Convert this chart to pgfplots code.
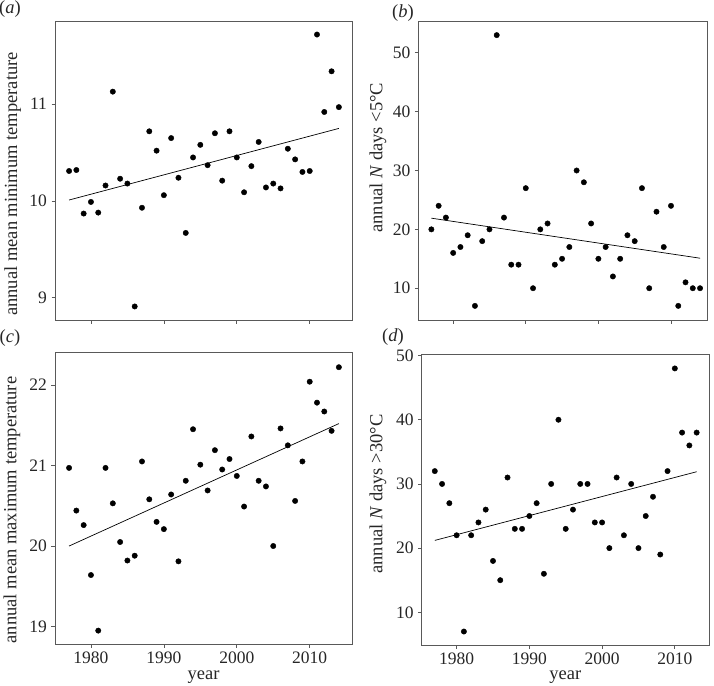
\documentclass[border=0pt]{standalone}
\usepackage{pgfplots}
\pgfplotsset{compat=1.18}
\usepackage{pgfplotstable}
\usepackage{fontspec}
\setmainfont{Liberation Serif}

\pgfplotstableread{
year val
1977 10.31
1978 10.32
1979 9.87
1980 9.99
1981 9.88
1982 10.16
1983 11.13
1984 10.23
1985 10.18
1986 8.91
1987 9.93
1988 10.72
1989 10.52
1990 10.06
1991 10.65
1992 10.24
1993 9.67
1994 10.45
1995 10.58
1996 10.37
1997 10.70
1998 10.21
1999 10.72
2000 10.45
2001 10.09
2002 10.36
2003 10.61
2004 10.14
2005 10.18
2006 10.13
2007 10.54
2008 10.43
2009 10.30
2010 10.31
2011 11.72
2012 10.92
2013 11.34
2014 10.97
}\dataA

\pgfplotstableread{
year val
1977 20
1978 24
1979 22
1980 16
1981 17
1982 19
1983 7
1984 18
1985 20
1986 53
1987 22
1988 14
1989 14
1990 27
1991 10
1992 20
1993 21
1994 14
1995 15
1996 17
1997 30
1998 28
1999 21
2000 15
2001 17
2002 12
2003 15
2004 19
2005 18
2006 27
2007 10
2008 23
2009 17
2010 24
2011 7
2012 11
2013 10
2014 10
}\dataB

\pgfplotstableread{
year val
1977 20.97
1978 20.44
1979 20.26
1980 19.64
1981 18.95
1982 20.97
1983 20.53
1984 20.05
1985 19.82
1986 19.88
1987 21.05
1988 20.58
1989 20.30
1990 20.21
1991 20.64
1992 19.81
1993 20.81
1994 21.45
1995 21.01
1996 20.69
1997 21.19
1998 20.95
1999 21.08
2000 20.87
2001 20.49
2002 21.36
2003 20.81
2004 20.74
2005 20.00
2006 21.46
2007 21.25
2008 20.56
2009 21.05
2010 22.04
2011 21.78
2012 21.67
2013 21.43
2014 22.22
}\dataC

\pgfplotstableread{
year val
1977 32
1978 30
1979 27
1980 22
1981 7
1982 22
1983 24
1984 26
1985 18
1986 15
1987 31
1988 23
1989 23
1990 25
1991 27
1992 16
1993 30
1994 40
1995 23
1996 26
1997 30
1998 30
1999 24
2000 24
2001 20
2002 31
2003 22
2004 30
2005 20
2006 25
2007 28
2008 19
2009 32
2010 48
2011 38
2012 36
2013 38
}\dataD

\newcommand{\lblfont}{\fontsize{18.5}{21}\selectfont}
\pgfplotsset{
  panel/.style={
    scale only axis,
    axis line style={black!65, line width=0.8pt},
    tick style={black!65, line width=0.7pt},
    tick align=outside,
    major tick length=3.5pt,
    xtick={1980,1990,2000,2010},
    xtick pos=bottom, ytick pos=left,
    /pgf/number format/1000 sep={},
    /pgf/number format/assume math mode=true,
    ticklabel style={font=\fontsize{17.5}{20}\selectfont, text=black!85},
    xticklabel style={yshift=-1pt},
    yticklabel style={xshift=-1pt},
    every axis y label/.style={rotate=90, anchor=center, font=\lblfont, text=black!85},
    every axis x label/.style={anchor=center, font=\lblfont, text=black!85},
  },
  dots/.style={only marks, mark=*, mark size=2.7pt, black},
  trend/.style={no marks, black, line width=0.7pt},
}

\begin{document}
\begin{tikzpicture}
\useasboundingbox (0pt,0pt) rectangle (714pt,-685pt);

% (a)
\begin{axis}[panel, at={(55pt,-320pt)}, anchor=south west, width=297pt, height=299pt,
  xmin=1975.07, xmax=2015.8, ymin=8.77, ymax=11.86,
  ytick={9,10,11}, xticklabels={},
  ylabel={annual mean minimum temperature},
  ylabel style={at={(axis description cs:-0.1424,0.455)}}]
\addplot[dots] table[x=year,y=val] {\dataA};
\addplot[trend] coordinates {(1977,10.01) (2014,10.75)};
\end{axis}

% (b)
\begin{axis}[panel, at={(418.3pt,-320pt)}, anchor=south west, width=289pt, height=299pt,
  xmin=1975.2, xmax=2015.0, ymin=4.6, ymax=55.4,
  ytick={10,20,30,40,50}, xticklabels={},
  ylabel={annual \textit{N} days <5°C},
  ylabel style={at={(axis description cs:-0.1394,0.543)}}]
\addplot[dots] table[x=year,y=val] {\dataB};
\addplot[trend] coordinates {(1977,21.9) (2014,15.1)};
\end{axis}

% (c)
\begin{axis}[panel, at={(55pt,-644.3pt)}, anchor=south west, width=297pt, height=291.6pt,
  xmin=1975.07, xmax=2015.8, ymin=18.78, ymax=22.40,
  ytick={19,20,21,22},
  xlabel={year}, xlabel style={at={(axis description cs:0.5,-0.112)}},
  ylabel={annual mean maximum temperature},
  ylabel style={at={(axis description cs:-0.1448,0.4606)}}]
\addplot[dots] table[x=year,y=val] {\dataC};
\addplot[trend] coordinates {(1977,20.0) (2014,21.52)};
\end{axis}

% (d)
\begin{axis}[panel, at={(421.7pt,-645pt)}, anchor=south west, width=287.3pt, height=290.7pt,
  xmin=1975.2, xmax=2014.7, ymin=4.9, ymax=50.2,
  ytick={10,20,30,40,50},
  xlabel={year}, xlabel style={at={(axis description cs:0.5,-0.109)}},
  ylabel={annual \textit{N} days >30°C},
  ylabel style={at={(axis description cs:-0.152,0.519)}}]
\addplot[dots] table[x=year,y=val] {\dataD};
\addplot[trend] coordinates {(1977,21.2) (2013,31.9)};
\end{axis}

\begin{scope}[every node/.style={font=\lblfont, text=black!85}]
\node at (10pt,-9pt) {(\textit{a})};
\node at (403pt,-13pt) {(\textit{b})};
\node at (10pt,-338pt) {(\textit{c})};
\node at (393pt,-337pt) {(\textit{d})};
\end{scope}
\end{tikzpicture}
\end{document}
